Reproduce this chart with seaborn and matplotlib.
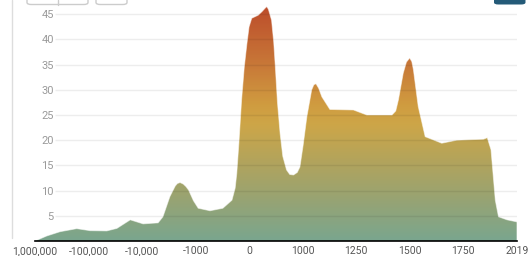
import numpy as np
import pandas as pd
import seaborn as sns
import matplotlib.pyplot as plt
from matplotlib.colors import LinearSegmentedColormap
from matplotlib.patches import FancyBboxPatch
from matplotlib.lines import Line2D

# Tick labels (equally spaced positions on the x axis)
tick_labels = ["1,000,000", "-100,000", "-10,000", "-1000", "0",
               "1000", "1250", "1500", "1750", "2019"]

# Curve points: position along the axis (in tick units) and value
x_pos = [0.00, 0.22, 0.47, 0.78, 1.03, 1.34, 1.53, 1.78, 2.02, 2.30,
         2.39, 2.52, 2.62, 2.66, 2.71, 2.77, 2.82, 2.87, 2.96, 3.05,
         3.27, 3.51, 3.68, 3.74, 3.77, 3.81, 3.86, 3.91, 3.96, 4.00,
         4.05, 4.17, 4.24, 4.30, 4.33, 4.36, 4.42, 4.46, 4.49, 4.53,
         4.58, 4.63, 4.70, 4.76, 4.83, 4.90, 4.95, 5.01, 5.08, 5.17,
         5.21, 5.25, 5.30, 5.36, 5.51, 5.95, 6.20, 6.67, 6.74, 6.79,
         6.88, 6.94, 7.00, 7.04, 7.07, 7.16, 7.29, 7.60, 7.88, 8.38,
         8.45, 8.52, 8.60, 8.66, 8.82, 9.00]
values = [0.0, 1.0, 1.85, 2.45, 2.05, 2.0, 2.5, 4.2, 3.4, 3.6,
          4.8, 8.8, 10.9, 11.4, 11.6, 11.3, 10.8, 10.1, 8.0, 6.5,
          6.0, 6.5, 8.1, 10.5, 13.4, 19.5, 28.0, 34.5, 39.2, 42.5,
          44.2, 44.8, 45.5, 46.2, 46.5, 46.0, 43.8, 39.5, 34.6, 27.5,
          21.3, 16.8, 14.1, 13.2, 13.1, 13.6, 14.7, 19.0, 24.7, 30.0,
          31.0, 31.2, 30.3, 28.6, 26.1, 26.0, 25.0, 25.0, 25.8, 28.0,
          33.3, 35.5, 36.3, 35.6, 34.0, 26.7, 20.7, 19.4, 20.0, 20.2,
          20.5, 18.1, 8.1, 4.8, 4.2, 3.8]
y_ticks = [5, 10, 15, 20, 25, 30, 35, 40, 45]

df = pd.DataFrame({"pos": x_pos, "value": values})

sns.set_style("white")
plt.rcParams["font.family"] = ["Roboto", "DejaVu Sans"]

fig = plt.figure(figsize=(5.29, 2.56), dpi=100)
ax = fig.add_axes([35 / 529, 15 / 256, 481.7 / 529, 239.4 / 256])
ymax = 47.5

# gradient fill clipped to the area under the curve
grad = LinearSegmentedColormap.from_list("area", [
    (0.0, "#7aa68e"), (9.7 / 46, "#9da36e"), (16.5 / 46, "#b5a45a"),
    (23 / 46, "#cda648"), (27 / 46, "#d09c40"), (35 / 46, "#c87838"),
    (1.0, "#bd4f2c")])
poly = ax.fill_between(df["pos"], df["value"], 0, color="none", lw=0)
img = ax.imshow(np.linspace(0, ymax, 400).reshape(-1, 1), cmap=grad,
                vmin=0, vmax=46, origin="lower", aspect="auto",
                extent=[0, 9, 0, ymax], zorder=1)
img.set_clip_path(poly.get_paths()[0], transform=ax.transData)
sns.lineplot(data=df, x="pos", y="value", ax=ax, color="white",
             lw=0.7, alpha=0.5, zorder=2)

# gridlines start right of the inside y labels
x_grid_start = (55 - 35) / 53.5
ax.hlines(y_ticks, x_grid_start, 9, color="black", alpha=0.07, lw=1, zorder=3)

ax.set_xlim(0, 9)
ax.set_ylim(0, ymax)
ax.set_xticks(range(len(tick_labels)))
ax.set_xticklabels(tick_labels)
ax.set_yticks(y_ticks)
ax.set_yticklabels([str(v) for v in y_ticks])
ax.set_xlabel("")
ax.set_ylabel("")
ax.tick_params(axis="x", length=3, width=1, color="black", pad=0.5,
               labelsize=7.5, labelcolor="#555555", direction="out")
ax.tick_params(axis="y", length=0, pad=-13.5, labelsize=8, labelcolor="#9a9a9a")
for lab in ax.get_yticklabels():
    lab.set_zorder(5)
for s in ["top", "right", "left"]:
    ax.spines[s].set_visible(False)
ax.spines["bottom"].set_color("black")
ax.spines["bottom"].set_linewidth(1.2)
ax.spines["bottom"].set_zorder(4)

# page chrome: left border and buttons clipped by the top edge
fig.add_artist(Line2D([12 / 529, 12 / 529], [18 / 256, 1], color="#dddddd", lw=1))
btn_bottom = (256 - 4.5) / 256
for x0, w in [(27, 61), (96, 31)]:
    fig.add_artist(FancyBboxPatch((x0 / 529, btn_bottom), w / 529, 10 / 256,
                                  boxstyle="round,pad=0,rounding_size=0.008",
                                  fc="white", ec="#cccccc", lw=1,
                                  transform=fig.transFigure))
fig.add_artist(Line2D([58 / 529, 58 / 529], [btn_bottom, 1], color="#cccccc", lw=1))
fig.add_artist(FancyBboxPatch((494 / 529, btn_bottom), 31.5 / 529, 10 / 256,
                              boxstyle="round,pad=0,rounding_size=0.008",
                              fc="#245a78", ec="none",
                              transform=fig.transFigure))

fig.savefig("out.png", dpi=100)
